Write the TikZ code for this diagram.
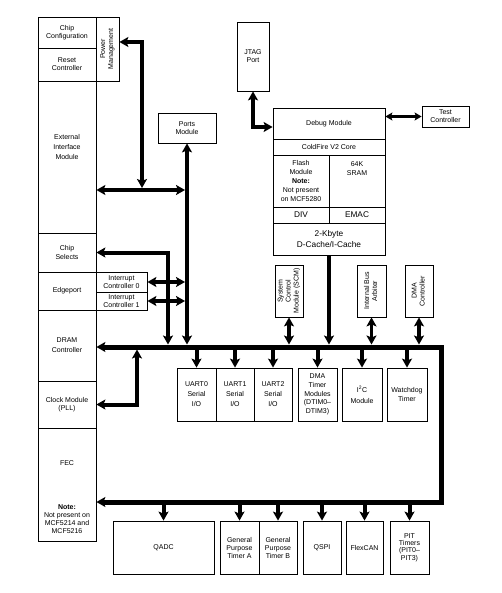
\documentclass[tikz,border=0pt]{standalone}
\usepackage{fontspec}
\setmainfont{Liberation Sans}
\usetikzlibrary{arrows.meta}
\newcommand\fsn{\fontsize{7}{8}\selectfont}
\newcommand\fsw{\fontsize{7}{10}\selectfont}
\newcommand\fsb{\fontsize{8.3}{11}\selectfont}
% box from corner (x1,y1) to (x2,y2)
\newcommand\bx[6][]{\node[box,#1,minimum width={(#4-#2)*1pt},minimum height={(#5-#3)*1pt}] (#6) at ({(#2+#4)/2},{(#3+#5)/2})}
\begin{document}
\begin{tikzpicture}[x=1pt,y=-1pt,
  box/.style={draw, line width=0.8pt, inner sep=0pt, align=center, font=\fsn},
  lbl/.style={inner sep=0pt, align=center, font=\fsn},
  wide/.style={font=\fsw},
  bus/.style={line width=5pt},
  feed/.style={line width=4pt},
  dbl/.style={line width=3.2pt},
  thinarrow/.style={line width=2.5pt, >={Stealth[length=7pt,width=8pt,inset=1.5pt]}},
  >={Stealth[length=9pt,width=10pt,inset=2pt]}]
\fill[white] (0,0) rectangle (502,593);
\useasboundingbox (0,0) rectangle (502,593);

% left column
\bx{38}{17}{96}{48}{chipcfg} {Chip\\Configuration};
\bx{38}{48}{96}{81}{reset} {Reset\\Controller};
\bx{96}{17}{119}{81}{pwr} {\rotatebox{90}{\begin{tabular}{@{}c@{}}Power\\Management\end{tabular}}};
\bx{38}{81}{96}{233}{ext} {};
\node[lbl, wide] (exttxt) at (67,147) {External\\Interface\\Module};
\bx[font=\fontsize{7}{9}\selectfont]{38}{233}{96}{272}{cs} {Chip\\Selects};
\bx{38}{272}{96}{310}{edge} {Edgeport};
\bx{96}{272}{147}{292}{ic0} {Interrupt\\Controller 0};
\bx{96}{292}{147}{310}{ic1} {Interrupt\\Controller 1};
\bx[wide]{38}{310}{96}{381}{dram} {DRAM\\Controller};
\bx{38}{381}{96}{428}{clk} {Clock Module\\(PLL)};
\bx{38}{428}{96}{541}{fec} {};
\node[lbl] (fectxt) at (67,463) {FEC};
\node[lbl] (fecnote) at (67,519) {\textbf{Note:}\\Not present on\\MCF5214 and\\MCF5216};

% ports, jtag, test
\bx{158}{113}{216}{143}{ports} {Ports\\Module};
\bx{237}{22}{269}{91}{jtag} {JTAG\\Port};
\bx{422}{106}{469}{127}{test} {Test\\Controller};

% core block
\bx{273}{108}{385}{139}{debug} {Debug Module};
\bx{273}{139}{385}{155}{cf} {ColdFire V2 Core};
\bx[font=\fontsize{7}{9.2}\selectfont]{273}{155}{329}{207}{flash} {Flash\\Module\\\textbf{Note:}\\Not present\\on MCF5280};
\bx{329}{155}{385}{207}{sram} {};
\node[lbl, font=\fontsize{7}{9}\selectfont] (sramtxt) at (357,169) {64K\\SRAM};
\bx[font=\fsb]{273}{207}{329}{223}{div} {DIV};
\bx[font=\fsb]{329}{207}{385}{223}{emac} {EMAC};
\bx[font=\fsb]{273}{223}{385}{255}{cache} {2-Kbyte\\D-Cache/I-Cache};

% upper peripherals
\bx{275}{265}{303}{317}{scm} {\rotatebox{90}{\begin{tabular}{@{}c@{}}System\\Control\\Module (SCM)\end{tabular}}};
\bx{357}{265}{386}{317}{iba} {\rotatebox{90}{\begin{tabular}{@{}c@{}}Internal Bus\\Arbiter\end{tabular}}};
\bx{405}{265}{433}{317}{dmac} {\rotatebox{90}{\begin{tabular}{@{}c@{}}DMA\\Controller\end{tabular}}};

% middle row
\bx[wide]{177}{368}{216}{421}{uart0} {UART0\\Serial\\I/O};
\bx[wide]{216}{368}{254}{421}{uart1} {UART1\\Serial\\I/O};
\bx[wide]{254}{368}{292}{421}{uart2} {UART2\\Serial\\I/O};
\bx[font=\fontsize{7}{8.7}\selectfont]{298}{368}{337}{421}{dtim} {DMA\\Timer\\Modules\\(DTIM0–\\DTIM3)};
\bx[font=\fontsize{7}{11}\selectfont]{342}{368}{382}{421}{i2c} {I\textsuperscript{2}C\\Module};
\bx[font=\fontsize{7}{8.5}\selectfont]{387}{368}{427}{421}{wdt} {Watchdog\\Timer};

% bottom row
\bx{113}{521}{214}{574}{qadc} {QADC};
\bx{220}{521}{259}{574}{gpta} {General\\Purpose\\Timer A};
\bx{259}{521}{297}{574}{gptb} {General\\Purpose\\Timer B};
\bx{303}{521}{341}{574}{qspi} {QSPI};
\bx{346}{521}{383}{574}{flexcan} {FlexCAN};
\bx[font=\fontsize{7}{7.3}\selectfont]{390}{521}{429}{574}{pit} {PIT\\Timers\\(PIT0–\\PIT3)};

% bus coordinates
\coordinate (bTL) at (96,347);
\coordinate (bTR) at (441,347);
\coordinate (bBR) at (441,502);
\coordinate (bTtop) at (0,344.5);
\coordinate (bTbot) at (0,349.5);
\coordinate (csx) at (168,0);
\coordinate (icx) at (185,0);
\coordinate (eh) at (185,190);
\coordinate (pwc) at (142,42);
\coordinate (pwe) at (142,188);
\coordinate (clkc) at (137,404.5);
\coordinate (jc) at (253,127);

% main bus
\draw[bus,<->] (dram.east |- bTL) -- (bTR) -- (bBR) -- (fec.east |- bBR);

% feeders from above
\draw[feed,->] (cache.south) -- (cache.south |- bTtop);
\draw[dbl,<->] (scm.south) -- (scm.south |- bTtop);
\draw[dbl,<->] (iba.south) -- (iba.south |- bTtop);
\draw[dbl,<->] (dmac.south) -- (dmac.south |- bTtop);
\draw[feed,<->] (ports.south) -- (ports.south |- bTtop);
\draw[feed,<->] (cs.east) -| (csx |- bTtop);
\draw[dbl,<->] (ic0.east) -- (ic0.east -| icx);
\draw[dbl,<->] (ic1.east) -- (ic1.east -| icx);
\draw[feed,<->] (ext.east |- eh) -- (eh);
\draw[feed,<->] (pwr.east |- pwc) -- (pwc) -- (pwe);
\draw[feed,<->] (clkc |- bTbot) -- (clkc) -- (clk.east);
\draw[feed,<->] (jtag.south) -- (jc) -- (debug.west |- jc);
\draw[thinarrow,<->] (debug.east |- test.west) -- (test.west);

% feeders below
\foreach \n in {uart0,uart1,uart2,dtim,i2c,wdt}
  \draw[feed,->] (\n.north |- bTbot) -- (\n.north);
\foreach \n in {qadc,gpta,gptb,qspi,flexcan,pit}
  \draw[feed,->] (\n.north |- bBR) -- (\n.north);
\end{tikzpicture}
\end{document}
